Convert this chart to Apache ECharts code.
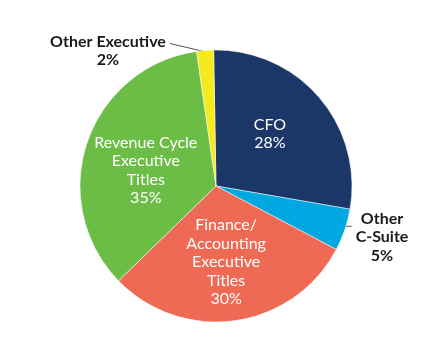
<!DOCTYPE html>
<html><head><meta charset="utf-8">
<script src="https://cdn.jsdelivr.net/npm/echarts@6/dist/echarts.min.js"></script>
<style>html,body{margin:0;padding:0;background:#fff}#c{width:436px;height:340px}</style>
</head><body><div id="c"></div>
<script>
var categories = ['CFO', 'Other\nC-Suite', 'Finance/\nAccounting\nExecutive\nTitles', 'Revenue Cycle\nExecutive\nTitles', 'Other Executive'];
var values = [28, 5, 30, 35, 2];
var colors = ['#1b3768', '#00a8e1', '#ee6a54', '#6bbd46', '#f4ea1d'];
var outside = [false, true, false, false, true];

var CX = 216, CY = 186, R = 136, START = 91;
// layout: inside nudges, outside label centres and anchor radius factor
var layoutCfg = [
  { dx: 0, dy: -6 },
  { x: 382, y: 237, anchorR: 0.92, side: 'left', lineDy: 17 },
  { dx: 0, dy: 6 },
  { dx: -3, dy: 7 },
  { x: 108, y: 51, anchorR: 0.99, side: 'right', lineDy: 11 }
];

var total = values.reduce(function (a, b) { return a + b; }, 0);
function midAngle(i) {
  var before = 0;
  for (var k = 0; k < i; k++) before += values[k];
  return (START - (before + values[i] / 2) / total * 360) * Math.PI / 180;
}

var data = categories.map(function (c, i) {
  var d = { name: c, value: values[i], itemStyle: { color: colors[i] } };
  if (outside[i]) {
    d.label = { position: 'outside', color: '#1a1a1a', fontWeight: 'bold', align: 'center' };
    d.labelLine = { show: true, length: 8, length2: 14, lineStyle: { color: '#555', width: 1 } };
  } else {
    d.label = { position: 'inside', color: '#ffffff' };
    d.labelLine = { show: false };
  }
  return d;
});

var chart = echarts.init(document.getElementById('c'), null, { renderer: 'canvas' });
chart.setOption({
  animation: false,
  series: [{
    type: 'pie',
    center: [CX, CY],
    radius: [0, R],
    startAngle: START,
    clockwise: true,
    avoidLabelOverlap: false,
    itemStyle: { borderColor: '#fff', borderWidth: 0.5 },
    label: {
      show: true,
      fontFamily: 'Lato',
      fontSize: 16,
      lineHeight: 18.5,
      align: 'center',
      formatter: function (p) { return p.name + '\n' + p.value + '%'; }
    },
    labelLayout: function (p) {
      var i = p.dataIndex, cfg = layoutCfg[i];
      if (!outside[i]) return { dx: cfg.dx, dy: cfg.dy };
      var a = midAngle(i);
      var ax = CX + Math.cos(a) * R * cfg.anchorR;
      var ay = CY - Math.sin(a) * R * cfg.anchorR;
      var w = p.labelRect.width, h = p.labelRect.height;
      var ex = cfg.side === 'left' ? cfg.x - w / 2 - 4 : cfg.x + w / 2 + 4;
      var ey = cfg.y - h / 2 + cfg.lineDy;
      return {
        x: cfg.x, y: cfg.y, align: 'center', verticalAlign: 'middle',
        labelLinePoints: [[ax, ay], [ex, ey], [ex, ey]]
      };
    },
    data: data
  }]
});
</script></body></html>
